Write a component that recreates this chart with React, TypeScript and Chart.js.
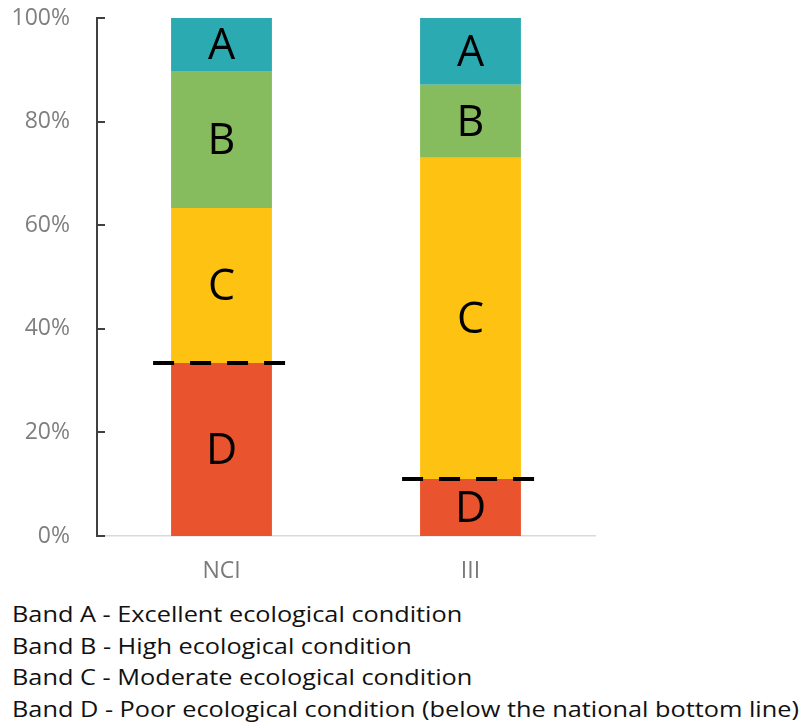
import React, { useEffect, useRef } from "react";
import { Chart, registerables } from "chart.js";

Chart.register(...registerables);

const categories = ["NCI", "III"];
const bandLabels = ["D", "C", "B", "A"];
const bandD = [33.4, 11.0];
const bandC = [29.9, 62.0];
const bandB = [26.3, 14.1];
const bandA = [10.4, 12.9];
const bandColors = ["#E9532D", "#FEC312", "#86BC5E", "#2BAAB1"];
const yTicks = [0, 20, 40, 60, 80, 100];
const legendLines = [
  "Band A - Excellent ecological condition",
  "Band B - High ecological condition",
  "Band C - Moderate ecological condition",
  "Band D - Poor ecological condition (below the national bottom line)",
];

const FONT = "'Open Sans', 'Noto Sans', sans-serif";

const barLabelPlugin = {
  id: "barLabels",
  afterDatasetsDraw(chart: any) {
    const ctx = chart.ctx;
    ctx.save();
    ctx.fillStyle = "#000";
    ctx.font = `43px ${FONT}`;
    ctx.textAlign = "center";
    ctx.textBaseline = "middle";
    chart.data.datasets.forEach((ds: any, di: number) => {
      const meta = chart.getDatasetMeta(di);
      meta.data.forEach((bar: any) => {
        const p = bar.getProps(["x", "y", "base"], true);
        ctx.fillText(ds.label, p.x, (p.y + p.base) / 2 + 2);
      });
    });
    // dashed bottom line at top of band D
    const metaD = chart.getDatasetMeta(0);
    ctx.strokeStyle = "#000";
    ctx.lineWidth = 4;
    ctx.setLineDash([21, 16]);
    metaD.data.forEach((bar: any) => {
      const p = bar.getProps(["x", "y", "width"], true);
      ctx.beginPath();
      ctx.moveTo(p.x - p.width / 2 - 18, p.y);
      ctx.lineTo(p.x + p.width / 2 + 16, p.y);
      ctx.stroke();
    });
    ctx.restore();
  },
  afterDraw(chart: any) {
    const ctx = chart.ctx;
    const y = chart.scales.y;
    ctx.save();
    ctx.strokeStyle = "#404040";
    ctx.lineWidth = 2;
    y.ticks.forEach((t: any) => {
      const py = Math.round(y.getPixelForValue(t.value));
      ctx.beginPath();
      ctx.moveTo(y.right, py);
      ctx.lineTo(y.right + 8, py);
      ctx.stroke();
    });
    ctx.restore();
  },
};

export default function App() {
  const canvasRef = useRef<HTMLCanvasElement | null>(null);

  useEffect(() => {
    document.body.style.margin = "0";
    const canvas = canvasRef.current;
    if (!canvas) return;
    const data = [bandD, bandC, bandB, bandA];
    const chart = new Chart(canvas, {
      type: "bar",
      data: {
        labels: categories,
        datasets: bandLabels.map((lab, i) => ({
          label: lab,
          data: data[i],
          backgroundColor: bandColors[i],
          borderWidth: 0,
          categoryPercentage: 1,
          barPercentage: 0.405,
        })),
      },
      options: {
        animation: false,
        responsive: false,
        maintainAspectRatio: false,
        layout: { padding: { top: 18, right: 204, left: 0, bottom: 0 } },
        plugins: { legend: { display: false }, tooltip: { enabled: false } },
        scales: {
          x: {
            stacked: true,
            grid: { display: false, drawTicks: false },
            border: { display: true, color: "#D9D9D9", width: 1.5 },
            ticks: {
              color: "#7A7A7A",
              font: { family: FONT, size: 23 },
              padding: 22,
            },
            afterFit(scale: any) {
              scale.height = 595 - 536;
              scale.paddingLeft = 0;
              scale.paddingRight = 0;
            },
          },
          y: {
            stacked: true,
            min: 0,
            max: 100,
            afterBuildTicks(scale: any) {
              scale.ticks = yTicks.map((v) => ({ value: v }));
            },
            grid: { display: false, drawTicks: false },
            border: { display: true, color: "#404040", width: 2 },
            ticks: {
              color: "#7F7F7F",
              font: { family: FONT, size: 23 },
              padding: 27,
              callback: (v: any) => `${v}%`,
            },
            afterFit(scale: any) {
              scale.width = 97;
              scale.paddingTop = 0;
              scale.paddingBottom = 0;
            },
          },
        },
      },
      plugins: [barLabelPlugin],
    });
    return () => chart.destroy();
  }, []);

  return (
    <div style={{ position: "relative", width: 799, height: 726, background: "#fff" }}>
      <canvas ref={canvasRef} width={799} height={595} style={{ display: "block", width: 799, height: 595 }} />
      <div
        style={{
          position: "absolute",
          left: 12,
          top: 598,
          fontFamily: FONT,
          fontSize: 22,
          lineHeight: "31.5px",
          color: "#111",
          whiteSpace: "nowrap",
          transform: "scaleX(1.15)",
          transformOrigin: "left top",
        }}
      >
        {legendLines.map((l) => (
          <div key={l}>{l}</div>
        ))}
      </div>
    </div>
  );
}
